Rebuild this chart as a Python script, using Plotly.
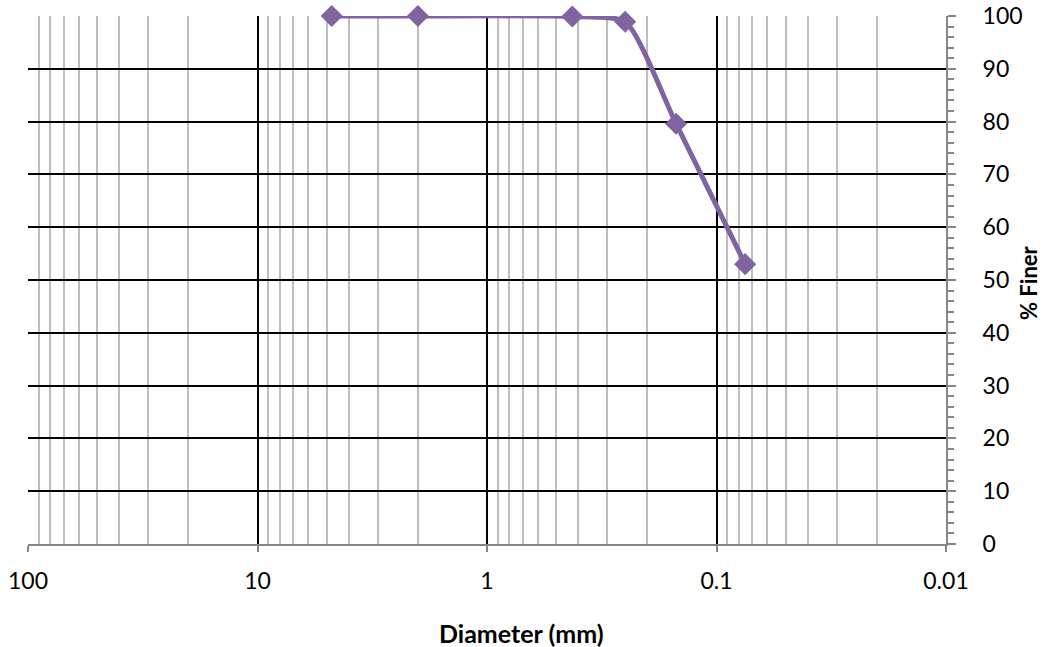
import plotly.graph_objects as go

# Sieve analysis: particle diameter (mm) vs. percent finer
diameter_mm = [4.75, 2.0, 0.425, 0.25, 0.15, 0.075]
percent_finer = [100.0, 100.0, 99.9, 98.9, 79.6, 53.0]

x_tick_vals = [100, 10, 1, 0.1, 0.01]
x_tick_text = ["100", "10", "1", "0.1", "0.01"]
y_tick_vals = [0, 10, 20, 30, 40, 50, 60, 70, 80, 90, 100]

FONT = "Lato, Calibri, Carlito, 'Open Sans', sans-serif"
PURPLE = "#8064A2"
AXIS_GRAY = "#868686"

fig = go.Figure()
fig.add_trace(go.Scatter(
    x=diameter_mm,
    y=percent_finer,
    mode="lines+markers",
    line=dict(color=PURPLE, width=5, shape="spline", smoothing=0.6),
    marker=dict(symbol="diamond", size=17, color=PURPLE),
    showlegend=False,
    cliponaxis=False,
))

fig.update_layout(
    width=1044,
    height=647,
    margin=dict(l=28, r=98, t=16, b=103),
    paper_bgcolor="white",
    plot_bgcolor="white",
    font=dict(family=FONT, size=23, color="black"),
    xaxis=dict(
        type="log",
        range=[2, -2],
        tickvals=x_tick_vals,
        ticktext=x_tick_text,
        automargin=False,
        showgrid=True,
        gridcolor="black",
        gridwidth=2,
        ticks="outside",
        ticklen=6,
        tickcolor=AXIS_GRAY,
        tickwidth=2,
        showline=True,
        linecolor=AXIS_GRAY,
        linewidth=2,
        ticklabelstandoff=9,
        zeroline=False,
        minor=dict(
            dtick="D1",
            showgrid=True,
            gridcolor="#BEBEBE",
            gridwidth=2,
            ticks="",
        ),
    ),
    yaxis=dict(
        side="right",
        range=[0, 100],
        tickvals=y_tick_vals,
        automargin=False,
        showgrid=True,
        gridcolor="black",
        gridwidth=2,
        ticks="outside",
        ticklen=8,
        tickcolor=AXIS_GRAY,
        tickwidth=2,
        showline=True,
        linecolor=AXIS_GRAY,
        linewidth=2,
        ticklabelstandoff=22,
        zeroline=False,
        minor=dict(
            dtick=2,
            ticks="outside",
            ticklen=6,
            tickcolor=AXIS_GRAY,
            tickwidth=2,
            showgrid=False,
        ),
    ),
    annotations=[
        dict(
            text="<b>Diameter (mm)</b>",
            x=521, y=633, xref="paper", yref="paper",
            showarrow=False, font=dict(family=FONT, size=25),
            xanchor="center", yanchor="middle",
        ),
        dict(
            text="<b>% Finer</b>",
            x=1029, y=283, xref="paper", yref="paper",
            showarrow=False, font=dict(family=FONT, size=22),
            textangle=-90, xanchor="center", yanchor="middle",
        ),
    ],
)

# Place the two axis titles in pixel terms relative to the plot area
plot_l, plot_r, plot_t, plot_b = 28, 1044 - 98, 16, 647 - 103
for ann in fig.layout.annotations:
    px, py = ann.x, ann.y
    ann.x = (px - plot_l) / (plot_r - plot_l)
    ann.y = (plot_b - py) / (plot_b - plot_t)

fig.write_html("out.html")
